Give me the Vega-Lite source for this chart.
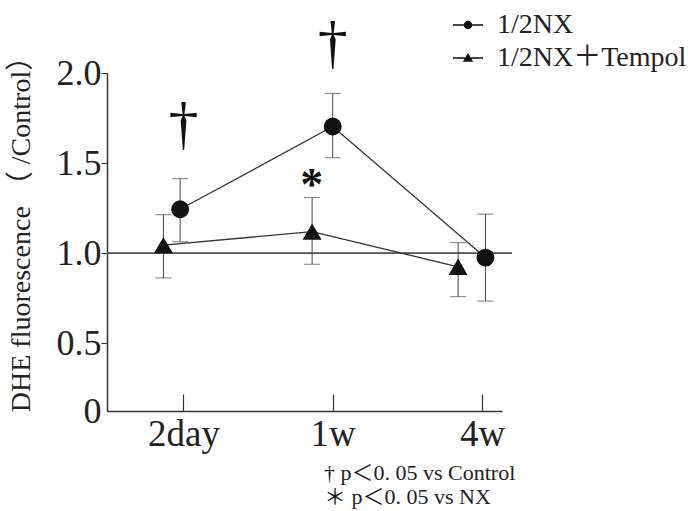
{
  "$schema": "https://vega.github.io/schema/vega-lite/v6.json",
  "width": 395,
  "height": 338,
  "autosize": {"type": "none"},
  "padding": {"left": 107, "top": 73, "right": 191, "bottom": 100},
  "background": "white",
  "config": {
    "view": {"stroke": null},
    "axis": {"grid": false, "domainColor": "#333", "tickColor": "#333", "labelColor": "#222", "titleColor": "#222", "labelFont": "Liberation Serif", "titleFont": "Liberation Serif, Noto Sans CJK JP"}
  },
  "datasets": {
    "points": [
      {"series": "1/2NX", "time": "2day", "t": 0.978, "mean": 1.244, "lo": 1.064, "hi": 1.414},
      {"series": "1/2NX", "time": "1w", "t": 2.0, "mean": 1.703, "lo": 1.53, "hi": 1.887},
      {"series": "1/2NX", "time": "4w", "t": 3.023, "mean": 0.976, "lo": 0.735, "hi": 1.217},
      {"series": "1/2NX＋Tempol", "time": "2day", "t": 0.866, "mean": 1.045, "lo": 0.863, "hi": 1.214},
      {"series": "1/2NX＋Tempol", "time": "1w", "t": 1.862, "mean": 1.12, "lo": 0.939, "hi": 1.309},
      {"series": "1/2NX＋Tempol", "time": "4w", "t": 2.84, "mean": 0.925, "lo": 0.759, "hi": 1.059}
    ],
    "daggers": [
      {"t": 1.0, "y": 1.713, "sym": "†"},
      {"t": 2.0, "y": 2.163, "sym": "†"}
    ],
    "stars": [
      {"t": 1.86, "y": 1.416, "sym": "*"}
    ]
  },
  "title": {
    "text": ["† p＜0. 05 vs Control", "＊ p＜0. 05 vs NX"],
    "orient": "bottom",
    "anchor": "start",
    "align": "left",
    "dx": 317,
    "offset": 11,
    "font": "Liberation Serif, Noto Sans CJK JP",
    "fontSize": 22,
    "fontWeight": "normal",
    "lineHeight": 24,
    "color": "#222"
  },
  "layer": [
    {
      "data": {"name": "points"},
      "mark": {"type": "rule", "color": "#555", "strokeWidth": 1, "clip": false},
      "encoding": {
        "x": {"datum": 0.488, "type": "quantitative"},
        "x2": {"datum": 3.2},
        "y": {"datum": 1.0, "type": "quantitative"}
      }
    },
    {
      "data": {"name": "points"},
      "mark": {"type": "rule", "color": "#444", "strokeWidth": 1},
      "encoding": {
        "x": {
          "field": "t", "type": "quantitative",
          "scale": {"domain": [0.488, 3.134], "zero": false, "nice": false},
          "axis": {
            "values": [1, 2, 3],
            "labelExpr": "datum.value == 1 ? '2day' : datum.value == 2 ? '1w' : '4w'",
            "title": null,
            "tickSize": -17,
            "labelPadding": 22,
            "labelFontSize": 37,
            "labelFlush": false,
            "domainWidth": 1.5,
            "tickWidth": 1.2
          }
        },
        "y": {
          "field": "lo", "type": "quantitative",
          "scale": {"domain": [0.125, 2.0], "zero": false, "nice": false},
          "axis": {
            "values": [0.125, 0.5, 1, 1.5, 2],
            "labelExpr": "datum.value < 0.2 ? '0' : format(datum.value, '.1f')",
            "tickSize": 6,
            "tickColor": {"condition": {"test": "datum.value < 0.2", "value": "transparent"}, "value": "#333"},
            "labelPadding": 0,
            "labelFontSize": 36,
            "domainWidth": 1.5,
            "title": "DHE fluorescence （ /Control）",
            "titleFontSize": 28,
            "titleFontWeight": "normal",
            "titleAngle": 270,
            "titleAlign": "center",
            "titleBaseline": "middle",
            "titleX": -86,
            "titleY": 154
          }
        },
        "y2": {"field": "hi"}
      }
    },
    {
      "data": {"name": "points"},
      "mark": {"type": "tick", "orient": "horizontal", "color": "#444", "thickness": 1, "size": 16},
      "encoding": {
        "x": {"field": "t", "type": "quantitative"},
        "y": {"field": "lo", "type": "quantitative"}
      }
    },
    {
      "data": {"name": "points"},
      "mark": {"type": "tick", "orient": "horizontal", "color": "#444", "thickness": 1, "size": 16},
      "encoding": {
        "x": {"field": "t", "type": "quantitative"},
        "y": {"field": "hi", "type": "quantitative"}
      }
    },
    {
      "data": {"name": "points"},
      "mark": {"type": "line", "color": "#333", "strokeWidth": 1.3},
      "encoding": {
        "x": {"field": "t", "type": "quantitative"},
        "y": {"field": "mean", "type": "quantitative"},
        "detail": {"field": "series"}
      }
    },
    {
      "data": {"name": "points"},
      "mark": {"type": "point", "filled": true, "color": "#111", "opacity": 1},
      "encoding": {
        "x": {"field": "t", "type": "quantitative"},
        "y": {"field": "mean", "type": "quantitative"},
        "shape": {"field": "series", "type": "nominal", "scale": {"domain": ["1/2NX", "1/2NX＋Tempol"], "range": ["circle", "triangle-up"]}, "legend": null},
        "size": {"field": "series", "type": "ordinal", "scale": {"domain": ["1/2NX", "1/2NX＋Tempol"], "range": [320, 360]}, "legend": null}
      }
    },
    {
      "data": {"name": "points"},
      "mark": {"type": "point", "filled": true, "color": "#111", "opacity": 0},
      "encoding": {
        "x": {"field": "t", "type": "quantitative"},
        "y": {"field": "mean", "type": "quantitative"},
        "shape": {
          "field": "series", "type": "nominal",
          "scale": {"domain": ["1/2NX", "1/2NX＋Tempol"], "range": ["M-1.5,-0.065H-0.38V0.065H-1.5ZM0.38,-0.065H1.5V0.065H0.38ZM0.42,0A0.42,0.42,0,1,1,-0.42,0A0.42,0.42,0,1,1,0.42,0Z", "M-1.5,-0.065H-0.3V0.065H-1.5ZM0.3,-0.065H1.5V0.065H0.3ZM0,-0.5L0.52,0.38L-0.52,0.38Z"]},
          "legend": {
            "orient": "none",
            "legendX": 347,
            "legendY": -62,
            "title": null,
            "padding": 0,
            "symbolSize": 400,
            "symbolOpacity": 1,
            "symbolFillColor": "#111",
            "symbolStrokeWidth": 0,
            "labelFont": "Liberation Serif, Noto Sans CJK JP",
            "labelFontSize": 28,
            "labelColor": "#222",
            "labelOffset": 15,
            "rowPadding": 5,
            "labelLimit": 400
          }
        }
      }
    },
    {
      "data": {"name": "daggers"},
      "mark": {"type": "text", "font": "Liberation Serif", "fontSize": 60, "baseline": "middle", "align": "center", "color": "#111"},
      "encoding": {
        "x": {"field": "t", "type": "quantitative"},
        "y": {"field": "y", "type": "quantitative"},
        "text": {"field": "sym"}
      }
    },
    {
      "data": {"name": "stars"},
      "mark": {"type": "text", "font": "Liberation Serif", "fontSize": 46, "fontWeight": "bold", "baseline": "middle", "align": "center", "dy": 8, "color": "#111"},
      "encoding": {
        "x": {"field": "t", "type": "quantitative"},
        "y": {"field": "y", "type": "quantitative"},
        "text": {"field": "sym"}
      }
    }
  ],
  "resolve": {"scale": {"shape": "independent", "size": "independent"}, "legend": {"shape": "independent"}}
}
